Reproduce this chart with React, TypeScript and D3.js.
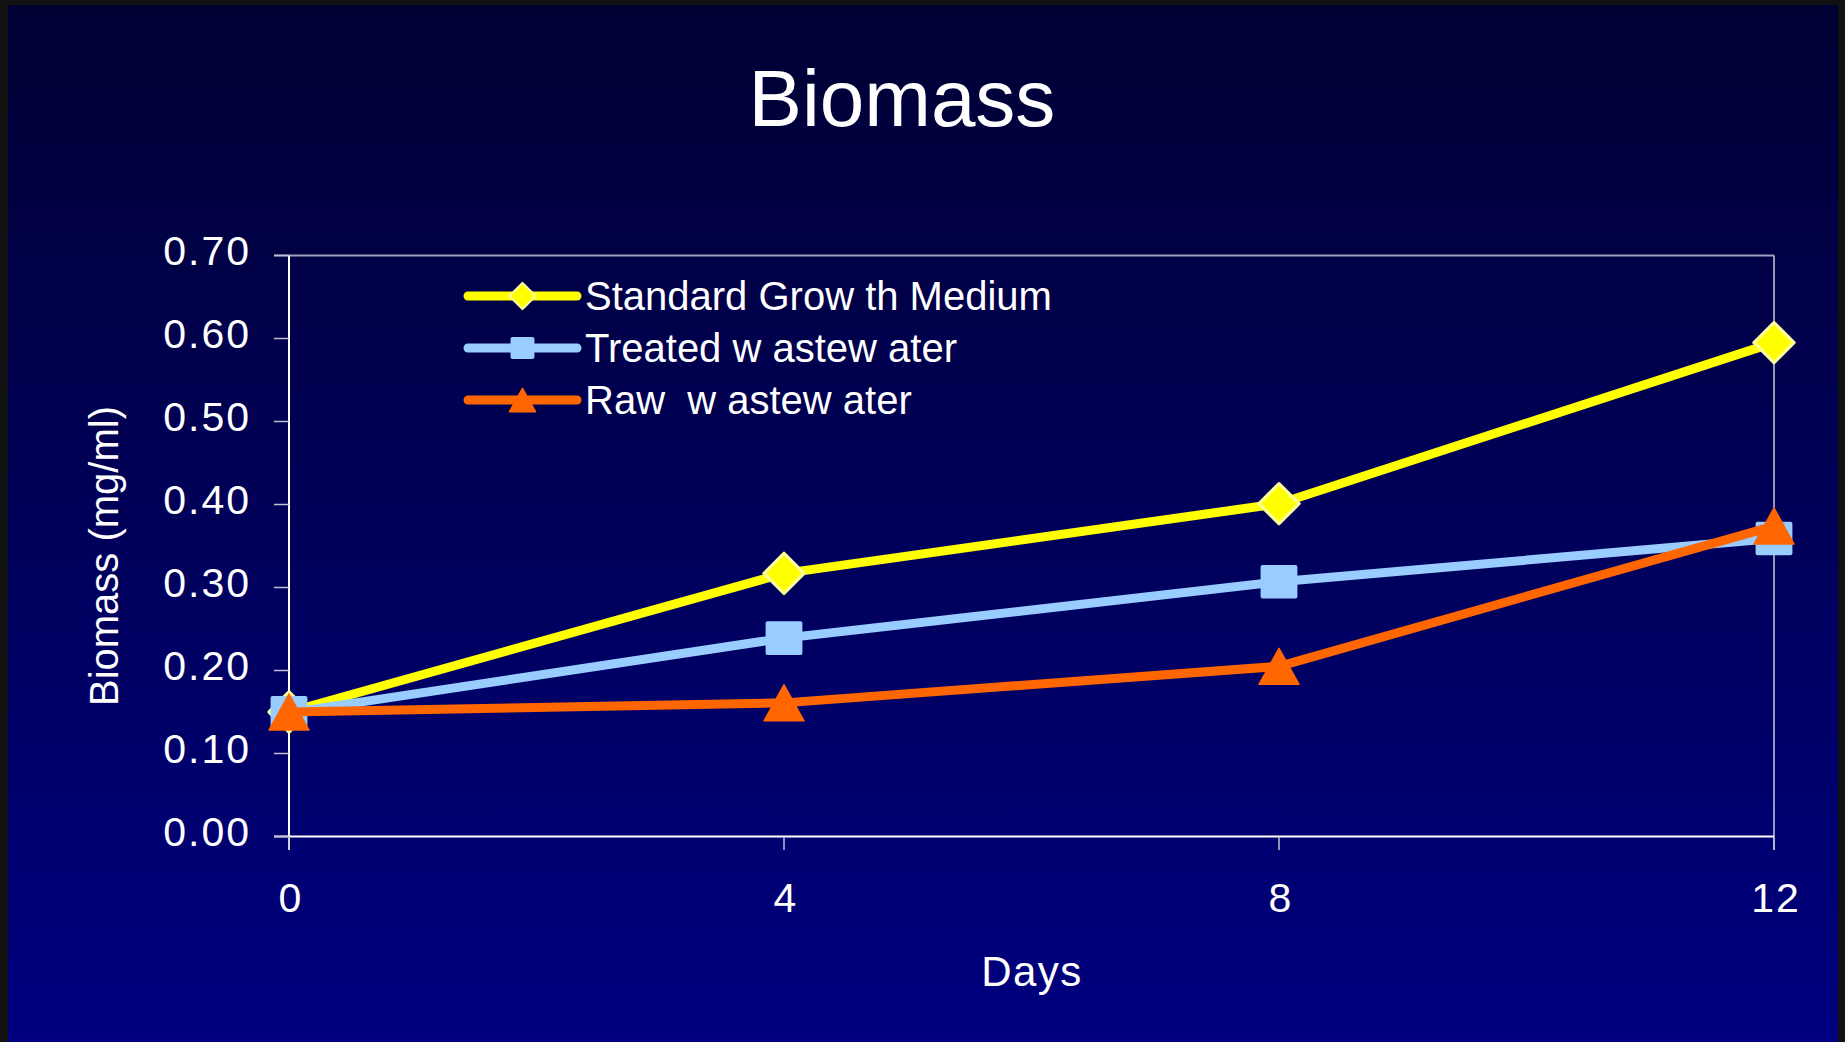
import React from "react";
import * as d3 from "d3";

const days = [0, 4, 8, 12];
const standardGrowth = [0.15, 0.317, 0.401, 0.595];
const treatedWastewater = [0.149, 0.239, 0.307, 0.359];
const rawWastewater = [0.15, 0.161, 0.205, 0.374];
const yTicks = [0, 0.1, 0.2, 0.3, 0.4, 0.5, 0.6, 0.7];
const seriesNames = ["Standard Grow th Medium", "Treated w astew ater", "Raw  w astew ater"];

const W = 1845;
const H = 1042;
const FONT = "'Liberation Sans', Arial, sans-serif";

type Series = { name: string; values: number[]; color: string; marker: "diamond" | "square" | "triangle" };

const series: Series[] = [
  { name: seriesNames[0], values: standardGrowth, color: "#ffff00", marker: "diamond" },
  { name: seriesNames[1], values: treatedWastewater, color: "#99ccff", marker: "square" },
  { name: seriesNames[2], values: rawWastewater, color: "#ff6600", marker: "triangle" },
];

function Marker({ kind, x, y, s }: { kind: string; x: number; y: number; s: number }) {
  if (kind === "diamond") {
    const r = s / 2;
    return (
      <path
        d={`M${x},${y - r}L${x + r},${y}L${x},${y + r}L${x - r},${y}Z`}
        fill="#ffff00"
        stroke="#ffff99"
        strokeWidth={s / 12}
        strokeLinejoin="round"
      />
    );
  }
  if (kind === "square") {
    const w = s * 0.92;
    const h = s * 0.84;
    return <rect x={x - w / 2} y={y - h / 2} width={w} height={h} rx={2} fill="#99ccff" />;
  }
  const w = s;
  const h = s * 0.9;
  return (
    <path
      d={`M${x},${y - h / 2}L${x + w / 2},${y + h / 2}L${x - w / 2},${y + h / 2}Z`}
      fill="#ff6600"
      stroke="#ff6600"
      strokeWidth={1.5}
      strokeLinejoin="round"
    />
  );
}

export default function App() {
  const x = d3.scaleLinear().domain([0, 12]).range([289, 1774]);
  const y = d3.scaleLinear().domain([0, 0.7]).range([836.5, 255.5]);
  const line = d3
    .line<number>()
    .x((_, i) => x(days[i]))
    .y((v) => y(v));

  const legendX1 = 468;
  const legendX2 = 577;
  const legendY = [296, 348, 400];

  return (
    <svg
      width={W}
      height={H}
      style={{ position: "absolute", left: 0, top: 0, display: "block" }}
      fontFamily={FONT}
    >
      <defs>
        <linearGradient id="bg" x1="0" y1="0" x2="0" y2="1">
          <stop offset="0" stopColor="#000033" />
          <stop offset="1" stopColor="#000080" />
        </linearGradient>
      </defs>
      <rect x={0} y={0} width={W} height={H} fill="#111111" />
      <rect x={8} y={5} width={1830} height={H - 5} fill="url(#bg)" />

      <text x={902} y={126} fill="#ffffff" fontSize={80} textAnchor="middle">
        Biomass
      </text>

      {/* frame */}
      <line x1={274} x2={1774} y1={y(0.7)} y2={y(0.7)} stroke="#a0a0b8" strokeWidth={2} />
      <line x1={1774} x2={1774} y1={y(0.7)} y2={850} stroke="#c8c8d8" strokeWidth={1.5} />
      {/* y axis */}
      <line x1={289} x2={289} y1={y(0.7)} y2={850} stroke="#ffffff" strokeWidth={2} />
      <line x1={274} x2={1774} y1={y(0)} y2={y(0)} stroke="#ffffff" strokeWidth={2} />
      {yTicks.map((t) => (
        <g key={t}>
          <line x1={274} x2={289} y1={y(t)} y2={y(t)} stroke="#c0c0d0" strokeWidth={1.5} />
          <text
            x={251}
            y={y(t) - 1}
            fill="#ffffff"
            fontSize={41}
            textAnchor="end"
            dominantBaseline="middle"
            letterSpacing={2}
          >
            {t.toFixed(2)}
          </text>
        </g>
      ))}
      {days.map((d) => (
        <g key={d}>
          <line x1={x(d)} x2={x(d)} y1={y(0)} y2={850} stroke="#c0c0d0" strokeWidth={1.5} />
          <text x={x(d) + 2} y={912} fill="#ffffff" fontSize={41} textAnchor="middle" letterSpacing={2}>
            {d}
          </text>
        </g>
      ))}

      <text x={1032} y={986} fill="#ffffff" fontSize={42} textAnchor="middle" letterSpacing={1.5}>
        Days
      </text>
      <text
        transform={`translate(118,556) rotate(-90)`}
        fill="#ffffff"
        fontSize={40}
        textAnchor="middle"
      >
        Biomass (mg/ml)
      </text>

      {series.map((s) => (
        <g key={s.name}>
          <path
            d={line(s.values) || ""}
            fill="none"
            stroke={s.color}
            strokeWidth={9}
            strokeLinejoin="round"
            strokeLinecap="round"
          />
          {s.values.map((v, i) => (
            <Marker key={i} kind={s.marker} x={x(days[i])} y={y(v)} s={40} />
          ))}
        </g>
      ))}

      {series.map((s, i) => (
        <g key={"leg" + i}>
          <line
            x1={legendX1}
            x2={legendX2}
            y1={legendY[i]}
            y2={legendY[i]}
            stroke={s.color}
            strokeWidth={9}
            strokeLinecap="round"
          />
          <Marker kind={s.marker} x={(legendX1 + legendX2) / 2} y={legendY[i]} s={26} />
          <text x={585} y={legendY[i] + 14} fill="#ffffff" fontSize={40} style={{ whiteSpace: "pre" }}>
            {s.name}
          </text>
        </g>
      ))}
    </svg>
  );
}
